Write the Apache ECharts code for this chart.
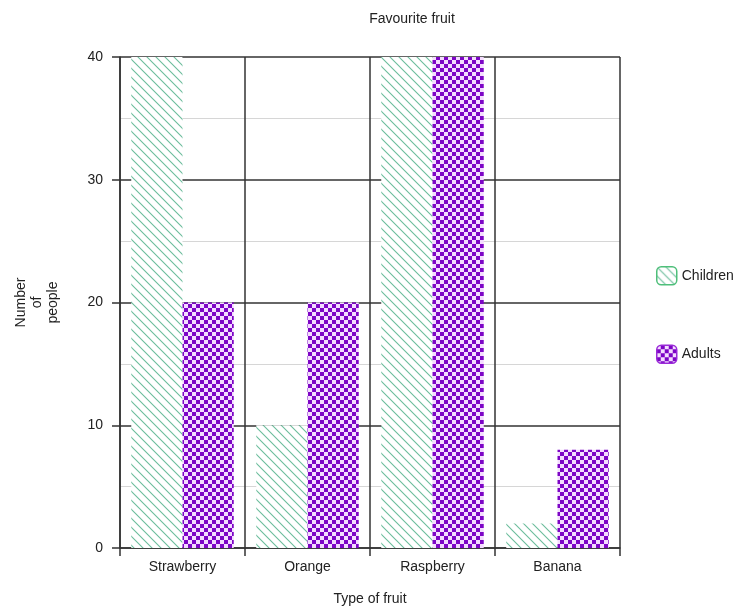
<!DOCTYPE html>
<html><head><meta charset="utf-8">
<script src="https://cdn.jsdelivr.net/npm/echarts@6/dist/echarts.min.js"></script>
<style>html,body{margin:0;padding:0;background:#fff}#c{width:754px;height:608px}</style>
</head><body><div id="c"></div>
<script>
var categories = ['Strawberry', 'Orange', 'Raspberry', 'Banana'];
var children = [40, 10, 40, 2];
var adults = [20, 20, 40, 8];
var yTicks = [0, 10, 20, 30, 40];

function hatch() {
  var s = 9, c = document.createElement('canvas');
  c.width = s; c.height = s;
  var g = c.getContext('2d');
  g.fillStyle = '#ffffff'; g.fillRect(0, 0, s, s);
  g.strokeStyle = '#6cbd9c'; g.lineWidth = 1.1;
  g.beginPath();
  g.moveTo(-1, -1); g.lineTo(s + 1, s + 1);
  g.moveTo(-1, s - 1); g.lineTo(1, s + 1);
  g.moveTo(s - 1, -1); g.lineTo(s + 1, 1);
  g.stroke();
  return c;
}
function checker() {
  var s = 8, h = 4, c = document.createElement('canvas');
  c.width = s; c.height = s;
  var g = c.getContext('2d');
  g.fillStyle = '#7d05c6'; g.fillRect(0, 0, s, s);
  g.fillStyle = '#f4dcff';
  g.fillRect(0, 0, h, h); g.fillRect(h, h, h, h);
  return c;
}
var font = '"Liberation Sans", Arial, sans-serif';
var chart = echarts.init(document.getElementById('c'));
chart.setOption({
  animation: false,
  title: {text: 'Favourite fruit', left: 407, top: 7, textAlign: 'center',
    textStyle: {fontFamily: font, fontSize: 14, fontWeight: 'normal', color: '#222'}},
  grid: {left: 120, right: 134, top: 57, bottom: 60, outerBoundsMode: 'none', containLabel: false},
  legend: {orient: 'vertical', left: 651, top: 261, itemWidth: 20, itemHeight: 18, itemGap: 59,
    textStyle: {fontFamily: font, fontSize: 14, color: '#222'},
    data: [
      {name: 'Children', itemStyle: {borderColor: '#4fbf7a', borderWidth: 1.5}},
      {name: 'Adults', itemStyle: {borderColor: '#9a2ad8', borderWidth: 1.5}}
    ]},
  xAxis: {type: 'category', data: categories, name: 'Type of fruit', nameLocation: 'middle', nameGap: 44,
    nameTextStyle: {fontFamily: font, fontSize: 14, color: '#222'},
    axisLine: {lineStyle: {color: '#333', width: 1.5}},
    axisTick: {show: true, length: 8, lineStyle: {color: '#333', width: 1.5}},
    axisLabel: {fontFamily: font, fontSize: 14, color: '#222', margin: 12},
    splitLine: {show: true, lineStyle: {color: '#333', width: 1.5}}},
  yAxis: {type: 'value', min: 0, max: 40, interval: 10, name: 'Number\nof\npeople',
    nameLocation: 'middle', nameGap: 59, nameRotate: 90,
    nameTextStyle: {fontFamily: font, fontSize: 14, color: '#222', lineHeight: 16},
    axisLine: {show: true, lineStyle: {color: '#333', width: 1.5}},
    axisTick: {show: true, length: 8, lineStyle: {color: '#333', width: 1.5}},
    axisLabel: {fontFamily: font, fontSize: 14, color: '#222', margin: 17,
      formatter: function (v) { return yTicks.indexOf(v) >= 0 ? String(v) : ''; }},
    splitLine: {show: true, lineStyle: {color: '#333', width: 1.5}},
    minorTick: {show: false, splitNumber: 2},
    minorSplitLine: {show: true, lineStyle: {color: '#d6d6d6', width: 1}}},
  series: [
    {name: 'Children', type: 'bar', data: children, barGap: '0%', barCategoryGap: '18%',
      itemStyle: {color: {image: hatch(), repeat: 'repeat'}}},
    {name: 'Adults', type: 'bar', data: adults,
      itemStyle: {color: {image: checker(), repeat: 'repeat'}}}
  ]
});
</script></body></html>
